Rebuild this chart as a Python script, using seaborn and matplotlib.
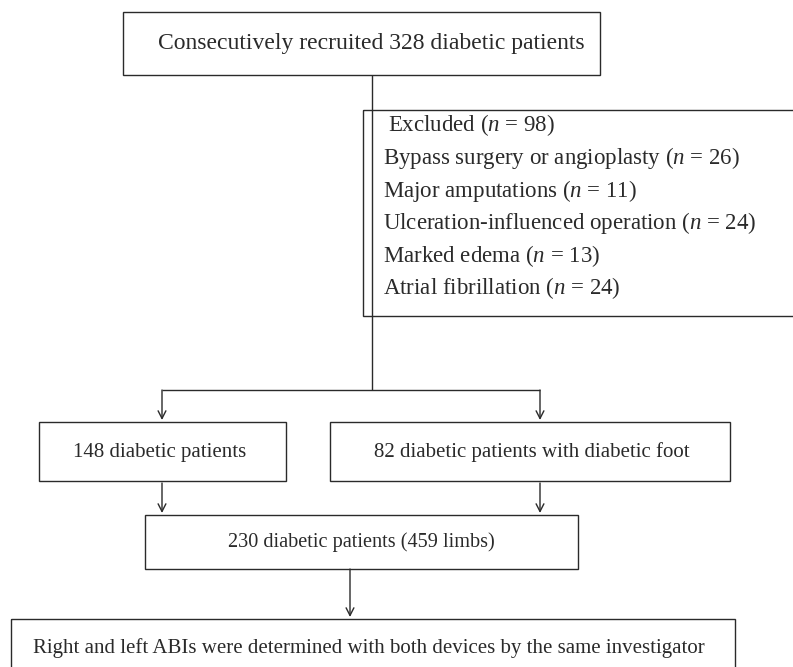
import matplotlib
matplotlib.use('Agg')
import matplotlib.pyplot as plt
import seaborn as sns
from matplotlib.patches import Rectangle

sns.set_style('white')
plt.rcParams['font.family'] = ['Liberation Serif', 'DejaVu Serif']
plt.rcParams['mathtext.fontset'] = 'custom'
plt.rcParams['mathtext.rm'] = 'Liberation Serif'
plt.rcParams['mathtext.it'] = 'Liberation Serif:italic'

# textos do fluxograma
top_text = 'Consecutively recruited 328 diabetic patients'
excl_labels = ['Excluded', 'Bypass surgery or angioplasty', 'Major amputations',
               'Ulceration-influenced operation', 'Marked edema', 'Atrial fibrillation']
excl_counts = [98, 26, 11, 24, 13, 24]
group_texts = ['148 diabetic patients', '82 diabetic patients with diabetic foot']
merged_text = '230 diabetic patients (459 limbs)'
final_text = 'Right and left ABIs were determined with both devices by the same investigator'

W, H = 793, 667
fig = plt.figure(figsize=(W / 100, H / 100), dpi=100)
ax = fig.add_axes([0, 0, 1, 1])
ax.set_xlim(0, W)
ax.set_ylim(H, 0)
ax.axis('off')

fs = 15.0
ink = '#2a2a2a'
lw = 1.0

def box(x0, y0, x1, y1):
    ax.add_patch(Rectangle((x0, y0), x1 - x0, y1 - y0, fill=False, ec=ink, lw=lw))

def arrow(x, y0, y1):
    ax.annotate('', xy=(x, y1), xytext=(x, y0),
                arrowprops=dict(arrowstyle='->,head_length=0.55,head_width=0.28', color=ink, lw=lw,
                                shrinkA=0, shrinkB=0))

def line(xs, ys):
    ax.plot(xs, ys, color=ink, lw=lw, solid_capstyle='butt')

# caixa superior
box(123, 12, 600, 75)
ax.text(371, 44, top_text, ha='center', va='center', fontsize=17, color=ink)

# linha central e ramificacao
line([372, 372], [75, 390])
line([162, 540], [390, 390])
arrow(162, 390, 420)
arrow(540, 390, 420)

# caixa de exclusoes
box(363, 110, 800, 316)
ys = [125, 158, 191, 223, 256, 288]
for i, (lab, n) in enumerate(zip(excl_labels, excl_counts)):
    x = 388 if i == 0 else 383
    ax.text(x, ys[i], lab + r' ($n$ = %d)' % n, ha='left', va='center', fontsize=16.5, color=ink)

# caixas dos grupos
box(39, 422, 286, 481)
box(330, 422, 730, 481)
ax.text(160, 452, group_texts[0], ha='center', va='center', fontsize=fs, color=ink)
ax.text(532, 452, group_texts[1], ha='center', va='center', fontsize=fs, color=ink)

arrow(162, 483, 513)
arrow(540, 483, 513)

# caixa combinada
box(145, 515, 578, 569)
ax.text(361, 542, merged_text, ha='center', va='center', fontsize=14.6, color=ink)

arrow(350, 569, 617)

# caixa final
box(11, 619, 735, 680)
ax.text(369, 648, final_text, ha='center', va='center', fontsize=fs, color=ink)

fig.savefig('out.png', dpi=100, facecolor='white')
